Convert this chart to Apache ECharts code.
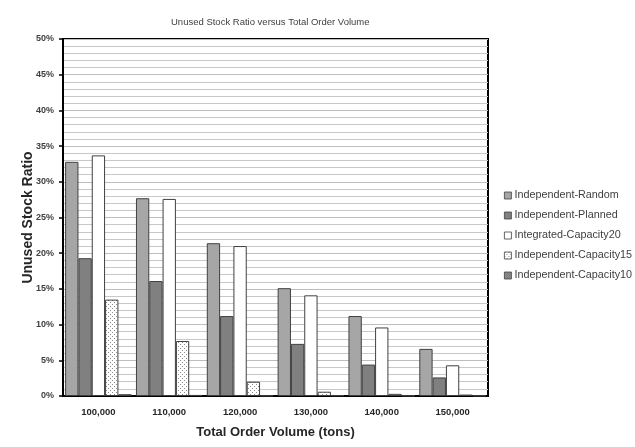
<!DOCTYPE html>
<html>
<head>
<meta charset="utf-8">
<script src="https://cdn.jsdelivr.net/npm/echarts@6/dist/echarts.min.js"></script>
<style>html,body{margin:0;padding:0;background:#fff}#c{width:635px;height:447px}</style>
</head>
<body>
<div id="c"></div>
<script>
var categories = ['100,000', '110,000', '120,000', '130,000', '140,000', '150,000'];
var independentRandom = [32.8, 27.7, 21.4, 15.1, 11.2, 6.6];
var independentPlanned = [19.3, 16.1, 11.2, 7.3, 4.4, 2.6];
var integratedCapacity20 = [33.7, 27.6, 21.0, 14.1, 9.6, 4.3];
var independentCapacity15 = [13.5, 7.7, 2.0, 0.6, 0.3, 0.2];
var independentCapacity10 = [0.25, 0.15, 0.05, 0.1, 0.05, 0.05];
var seriesNames = ['Independent-Random', 'Independent-Planned', 'Integrated-Capacity20', 'Independent-Capacity15', 'Independent-Capacity10'];
var yTickValues = [0, 5, 10, 15, 20, 25, 30, 35, 40, 45, 50];

function makePattern(bg, dot, step) {
  var cv = document.createElement('canvas');
  cv.width = step * 2; cv.height = step * 2;
  var ctx = cv.getContext('2d');
  ctx.fillStyle = bg; ctx.fillRect(0, 0, cv.width, cv.height);
  ctx.fillStyle = dot;
  ctx.fillRect(0, 0, 1, 1);
  ctx.fillRect(step, step, 1, 1);
  return { image: cv, repeat: 'repeat' };
}
var pat15 = makePattern('#ffffff', '#8c8c8c', 2);
var pat10 = makePattern('#d0d0d0', '#3a3a3a', 1);

var fills = ['#a6a6a6', '#808080', '#ffffff', pat15, pat10];
var dataSets = [independentRandom, independentPlanned, integratedCapacity20, independentCapacity15, independentCapacity10];

var chart = echarts.init(document.getElementById('c'), null, { renderer: 'canvas' });
var series = seriesNames.map(function (n, i) {
  return {
    name: n,
    type: 'bar',
    data: dataSets[i],
    barGap: '0%',
    barCategoryGap: '6%',
    itemStyle: { color: fills[i], borderColor: '#404040', borderWidth: 1 },
    emphasis: { disabled: true },
    animation: false
  };
});

chart.setOption({
  animation: false,
  title: {
    text: 'Unused Stock Ratio versus Total Order Volume',
    left: 166, top: 12,
    textStyle: { fontFamily: 'Liberation Sans', fontSize: 9.5, fontWeight: 'normal', color: '#404040' }
  },
  legend: {
    orient: 'vertical',
    left: 499, top: 185,
    itemWidth: 7, itemHeight: 7, itemGap: 9,
    icon: 'rect',
    data: seriesNames,
    itemStyle: { borderWidth: 0.8, borderColor: '#404040' },
    textStyle: { fontFamily: 'Liberation Sans', fontSize: 10.8, color: '#404040', padding: [0, 0, 0, -2] }
  },
  grid: {
    left: 63, right: 147, top: 39, bottom: 51,
    show: true, borderColor: '#000', borderWidth: 2, backgroundColor: 'transparent'
  },
  xAxis: {
    type: 'category',
    data: categories,
    name: 'Total Order Volume (tons)',
    nameLocation: 'middle',
    nameGap: 30,
    nameTextStyle: { fontFamily: 'Liberation Sans', fontSize: 13, fontWeight: 'bold', color: '#262626' },
    axisLine: { lineStyle: { color: '#000', width: 2 } },
    axisTick: { show: false },
    axisLabel: { fontFamily: 'Liberation Sans', fontSize: 9.5, fontWeight: 'bold', color: '#262626', margin: 11 }
  },
  yAxis: {
    type: 'value',
    min: 0, max: 50, interval: 5,
    name: 'Unused Stock Ratio',
    nameLocation: 'middle',
    nameGap: 28,
    nameMoveOverlap: false,
    nameTextStyle: { fontFamily: 'Liberation Sans', fontSize: 14, fontWeight: 'bold', color: '#262626' },
    axisLine: { show: true, lineStyle: { color: '#000', width: 2 } },
    axisTick: { show: true, length: 4, inside: false, lineStyle: { color: '#000', width: 1.5 } },
    axisLabel: {
      fontFamily: 'Liberation Sans', fontSize: 9, fontWeight: 'bold', color: '#404040', margin: 9,
      customValues: yTickValues,
      formatter: function (v) { return v + '%'; }
    },
    splitLine: { show: true, lineStyle: { color: '#bdbdbd', width: 1 } },
    minorTick: { show: false, splitNumber: 5 },
    minorSplitLine: { show: true, lineStyle: { color: '#c8c8c8', width: 1 } }
  },
  series: series
});
</script>
</body>
</html>
